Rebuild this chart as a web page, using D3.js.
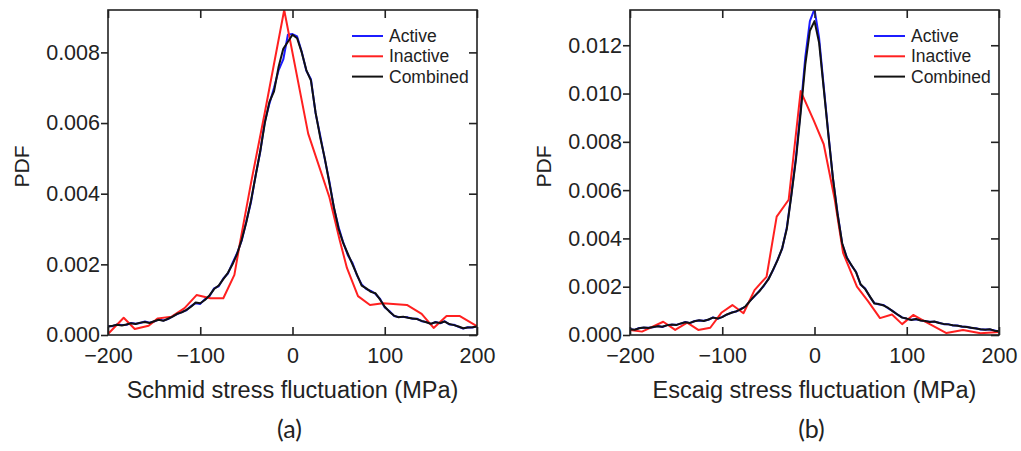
<!DOCTYPE html>
<html>
<head>
<meta charset="utf-8">
<script src="https://cdn.jsdelivr.net/npm/d3@7"></script>
<style>
  body { margin: 0; background: #fff; }
  svg text { font-family: "Liberation Sans", Arial, sans-serif; fill: #222; }
</style>
</head>
<body>
<svg id="base" width="1021" height="451"></svg>
<script>
// ------------------ data ------------------
var xTicks = [-200, -100, 0, 100, 200];
var legendNames = ['Active', 'Inactive', 'Combined'];

// grid for the active / combined curves, every 5 MPa
var grid = d3.range(-200, 201, 5);

// Schmid, combined
var schmidCombined = [0.00024,0.00026,0.00029,0.00027,0.00030,0.00033,0.00031,0.00035,0.00037,0.00034,
  0.00039,0.00043,0.00040,0.00046,0.00052,0.00060,0.00064,0.00071,0.00080,0.00092,
  0.00090,0.00099,0.00112,0.00130,0.00140,0.00158,0.00176,0.00200,0.00230,0.00270,
  0.00320,0.00380,0.00450,0.00520,0.00600,0.00660,0.00690,0.00760,0.00810,0.00830,
  0.00850,0.00840,0.00800,0.00750,0.00720,0.00630,0.00560,0.00500,0.00430,0.00360,
  0.00300,0.00260,0.00230,0.00200,0.00170,0.00140,0.00132,0.00122,0.00118,0.00100,
  0.00080,0.00066,0.00055,0.00050,0.00052,0.00049,0.00047,0.00045,0.00040,0.00036,
  0.00032,0.00036,0.00034,0.00038,0.00031,0.00028,0.00024,0.00019,0.00021,0.00022,0.00024];
// Schmid, active
var schmidActive = [0.00025,0.00025,0.00030,0.00028,0.00029,0.00034,0.00032,0.00034,0.00038,0.00035,
  0.00038,0.00044,0.00041,0.00045,0.00053,0.00059,0.00065,0.00070,0.00082,0.00090,
  0.00088,0.00101,0.00110,0.00132,0.00138,0.00160,0.00174,0.00204,0.00232,0.00268,
  0.00322,0.00376,0.00452,0.00518,0.00604,0.00655,0.00700,0.00750,0.00780,0.00850,
  0.00852,0.00845,0.00802,0.00748,0.00724,0.00628,0.00565,0.00498,0.00434,0.00358,
  0.00305,0.00262,0.00226,0.00204,0.00168,0.00143,0.00130,0.00125,0.00116,0.00102,
  0.00078,0.00068,0.00054,0.00051,0.00051,0.00050,0.00046,0.00046,0.00039,0.00037,
  0.00031,0.00037,0.00033,0.00039,0.00030,0.00029,0.00023,0.00018,0.00022,0.00021,0.00025];
// Schmid, inactive (coarse bins)
var schmidInactiveX = [-200,-183,-171,-156,-146,-131,-117,-104,-89,-75,-63,-57,-45,-30,-9,
  17,40,51,59,71,84,98,124,140,153,167,181,198,200];
var schmidInactive = [0.00003,0.00049,0.00017,0.00026,0.00047,0.00052,0.00076,0.00113,0.00104,0.00104,
  0.00170,0.00260,0.00430,0.00630,0.00920,0.00570,0.00390,0.00270,0.00190,0.00110,
  0.00085,0.00090,0.00085,0.00060,0.00020,0.00054,0.00054,0.00028,0.00025];

// Escaig, combined
var escaigCombined = [0.00024,0.00022,0.00028,0.00031,0.00029,0.00033,0.00036,0.00034,0.00040,0.00043,
  0.00041,0.00048,0.00053,0.00050,0.00057,0.00061,0.00058,0.00064,0.00072,0.00068,
  0.00074,0.00085,0.00092,0.00098,0.00106,0.00118,0.00140,0.00162,0.00180,0.00205,
  0.00230,0.00270,0.00310,0.00360,0.00440,0.00580,0.00730,0.00920,0.01120,0.01260,
  0.01300,0.01210,0.01020,0.00830,0.00650,0.00500,0.00380,0.00320,0.00290,0.00260,
  0.00210,0.00190,0.00160,0.00130,0.00128,0.00122,0.00112,0.00098,0.00085,0.00072,
  0.00068,0.00062,0.00066,0.00060,0.00058,0.00054,0.00056,0.00050,0.00046,0.00044,
  0.00040,0.00038,0.00035,0.00033,0.00030,0.00027,0.00024,0.00022,0.00024,0.00018,0.00015];
// Escaig, active
var escaigActive = [0.00025,0.00021,0.00029,0.00030,0.00030,0.00032,0.00037,0.00033,0.00041,0.00042,
  0.00042,0.00047,0.00054,0.00049,0.00058,0.00060,0.00059,0.00063,0.00073,0.00067,
  0.00075,0.00084,0.00093,0.00097,0.00108,0.00116,0.00142,0.00160,0.00182,0.00203,
  0.00232,0.00268,0.00312,0.00358,0.00445,0.00585,0.00740,0.00935,0.01150,0.01300,
  0.01350,0.01230,0.01030,0.00835,0.00648,0.00505,0.00378,0.00322,0.00288,0.00262,
  0.00208,0.00192,0.00158,0.00132,0.00126,0.00124,0.00110,0.00099,0.00084,0.00073,
  0.00067,0.00063,0.00065,0.00061,0.00057,0.00055,0.00055,0.00051,0.00045,0.00045,
  0.00039,0.00039,0.00034,0.00034,0.00029,0.00028,0.00023,0.00023,0.00023,0.00019,0.00014];
// Escaig, inactive (coarse bins)
var escaigInactiveX = [-200,-187,-164,-151,-138,-126,-113,-101,-89,-77,-65,-52,-41,-28,-15,
  -1,10,22,31,46,58,71,84,95,107,120,143,161,180,200];
var escaigInactive = [0.00021,0.00014,0.00055,0.00021,0.00051,0.00021,0.00030,0.00092,0.00124,0.00090,
  0.00186,0.00241,0.00490,0.00560,0.01010,0.00890,0.00790,0.00560,0.00340,0.00200,
  0.00140,0.00070,0.00085,0.00045,0.00083,0.00055,0.00008,0.00021,0.00007,0.00012];

var colors = { active: '#1c1cff', inactive: '#ff2020', combined: '#111111' };

var svg = d3.select('#base');

// ------------------ one panel ------------------
function panel(opt) {
    var w = 369, h = 325;
    var g = svg.append('g').attr('transform', `translate(${opt.left},${opt.top})`);

    var x = d3.scaleLinear().domain([-200, 200]).range([0, w]);
    var y = d3.scaleLinear().domain([0, opt.yMax]).range([h, 0]);

    var clipId = 'clip-' + opt.id;
    g.append('clipPath').attr('id', clipId)
     .append('rect').attr('width', w).attr('height', h);

    var line = d3.line().x(d => x(d[0])).y(d => y(d[1]));
    var plot = g.append('g').attr('clip-path', `url(#${clipId})`);

    var series = [
        { pts: d3.zip(grid, opt.active), c: colors.active },
        { pts: d3.zip(opt.inactiveX, opt.inactive), c: colors.inactive },
        { pts: d3.zip(grid, opt.combined), c: colors.combined }
    ];
    plot.selectAll('path.curve').data(series).enter()
        .append('path').attr('class', 'curve')
        .attr('d', d => line(d.pts))
        .attr('fill', 'none').attr('stroke', d => d.c)
        .attr('stroke-width', 2).attr('stroke-linejoin', 'round');

    // axes: left ticks outside, others inside
    var fmtY = d3.format('.3f');
    var ax = g.append('g').attr('class', 'ax');
    ax.append('g').call(d3.axisLeft(y).tickValues(opt.yTicks).tickFormat(fmtY)
        .tickSizeInner(7).tickSizeOuter(0).tickPadding(1));
    ax.append('g').attr('transform', `translate(0,${h})`)
      .call(d3.axisBottom(x).tickValues(xTicks).tickSizeInner(-8).tickSizeOuter(0).tickPadding(13));
    ax.append('g').call(d3.axisTop(x).tickValues(xTicks).tickFormat('').tickSizeInner(-8).tickSizeOuter(0));
    ax.append('g').attr('transform', `translate(${w},0)`)
      .call(d3.axisRight(y).tickValues(opt.yTicks).tickFormat('').tickSizeInner(-8).tickSizeOuter(0));
    ax.selectAll('.domain').remove();
    ax.selectAll('line').attr('stroke', '#222').attr('stroke-width', 1.6);
    ax.selectAll('text').style('font-size', '21.5px').attr('fill', '#222');

    g.append('rect').attr('width', w).attr('height', h)
     .attr('fill', 'none').attr('stroke', '#222').attr('stroke-width', 1.6);

    // legend
    var lg = g.selectAll('g.leg').data(legendNames).enter().append('g')
        .attr('transform', (d, i) => `translate(${w - 125},${26 + i * 20.3})`);
    lg.append('line').attr('x1', 0).attr('x2', 31)
      .attr('stroke', (d, i) => [colors.active, colors.inactive, colors.combined][i])
      .attr('stroke-width', 2);
    lg.append('text').attr('x', 37).attr('dy', '0.35em')
      .style('font-size', '17.5px').text(d => d);

    // titles
    g.append('text').attr('transform', `translate(${-opt.left + opt.pdfX},${h / 2 - 6}) rotate(-90)`)
     .attr('text-anchor', 'middle').style('font-size', '21px').text('PDF');
    g.append('text').attr('x', w / 2).attr('y', 388)
     .attr('text-anchor', 'middle').style('font-size', '23.5px').text(opt.title);
    g.append('text').attr('x', w / 2 - 3).attr('y', 428)
     .attr('text-anchor', 'middle').style('font-family', 'Lato, "Open Sans", sans-serif')
     .style('font-size', '25px').text(opt.tag);
}

panel({ id: 'a', left: 108, top: 10, yMax: 0.0092,
        yTicks: [0, 0.002, 0.004, 0.006, 0.008],
        active: schmidActive, combined: schmidCombined,
        inactiveX: schmidInactiveX, inactive: schmidInactive,
        pdfX: 29, title: 'Schmid stress fluctuation (MPa)', tag: '(a)' });

panel({ id: 'b', left: 630, top: 10, yMax: 0.01346,
        yTicks: [0, 0.002, 0.004, 0.006, 0.008, 0.010, 0.012],
        active: escaigActive, combined: escaigCombined,
        inactiveX: escaigInactiveX, inactive: escaigInactive,
        pdfX: 551, title: 'Escaig stress fluctuation (MPa)', tag: '(b)' });
</script>
</body>
</html>
